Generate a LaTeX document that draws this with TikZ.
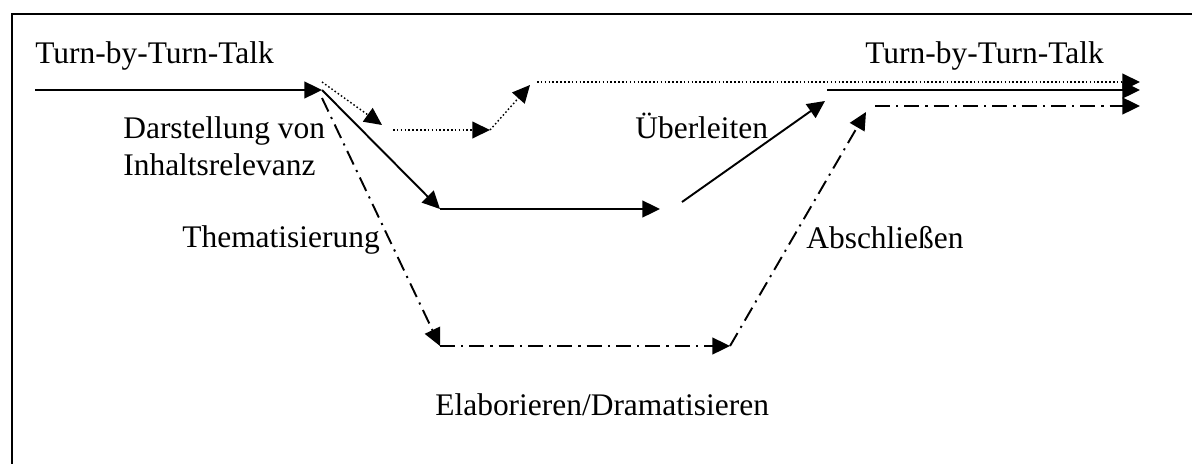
\documentclass[tikz,border=0pt]{standalone}
\usepackage{fontspec}
\setmainfont{Liberation Serif}
\usetikzlibrary{arrows.meta}

\begin{document}
\begin{tikzpicture}[x=0.02cm, y=-0.02cm]

    \tikzstyle{lab}=[inner sep=0pt, anchor=base west, font=\fontsize{17.9}{21}\selectfont];
    \tikzstyle{flow}=[line width=1.1pt, -{Triangle[length=10pt, width=9.5pt]}];
    \tikzstyle{dotflow}=[flow, line width=0.8pt, dash pattern=on 0.9pt off 1.3pt];
    \tikzstyle{dashdotflow}=[flow, dash pattern=on 8.5pt off 3.5pt on 1.2pt off 3.5pt];

    \useasboundingbox (0,0) rectangle (1192,463);
    \clip (0,0) rectangle (1192,463);
    \draw[line width=1.4pt] (12,14) rectangle (1220,490);

    % labels
    \node[lab] (talkin)  at (35,63)   {Turn-by-Turn-Talk};
    \node[lab] (talkout) at (865,63)  {Turn-by-Turn-Talk};
    \node[lab] (darst)   at (123,138) {Darstellung von};
    \node[lab] (inhalt)  at (123,175) {Inhaltsrelevanz};
    \node[lab] (thema)   at (182,247) {Thematisierung};
    \node[lab] (ueber)   at (635,138) {Überleiten};
    \node[lab] (absch)   at (806,248) {Abschließen};
    \node[lab] (elab)    at (435,415) {Elaborieren/Dramatisieren};

    % solid way
    \coordinate (s0) at (35,90);
    \coordinate (s1) at (322,90);
    \coordinate (s2) at (440,209);
    \coordinate (s3) at (660,209);
    \coordinate (s4) at (682,202);
    \coordinate (s5) at (825,101);
    \coordinate (s6) at (827,90);
    \coordinate (s7) at (1140,90);

    % dotted way
    \coordinate (d0) at (322,82);
    \coordinate (d1) at (382,125);
    \coordinate (d2) at (393,130);
    \coordinate (d3) at (490,130);
    \coordinate (d4) at (530,85);
    \coordinate (d5) at (537,82);
    \coordinate (d6) at (1140,82);

    % dash-dotted way
    \coordinate (c0) at (322,98);
    \coordinate (c1) at (440,346);
    \coordinate (c2) at (730,346);
    \coordinate (c3) at (866,112);
    \coordinate (c4) at (875,106);
    \coordinate (c5) at (1140,106);

    \draw (s0) edge[flow] (s1);
    \draw (s1) edge[flow] (s2);
    \draw (s2) edge[flow] (s3);
    \draw (s4) edge[flow] (s5);
    \draw (s6) edge[flow] (s7);

    \draw (d0) edge[dotflow] (d1);
    \draw (d2) edge[dotflow] (d3);
    \draw (d3) edge[dotflow] (d4);
    \draw (d5) edge[dotflow] (d6);

    \draw (c0) edge[dashdotflow] (c1);
    \draw (c1) edge[dashdotflow] (c2);
    \draw (c2) edge[dashdotflow] (c3);
    \draw (c4) edge[dashdotflow] (c5);
\end{tikzpicture}
\end{document}
